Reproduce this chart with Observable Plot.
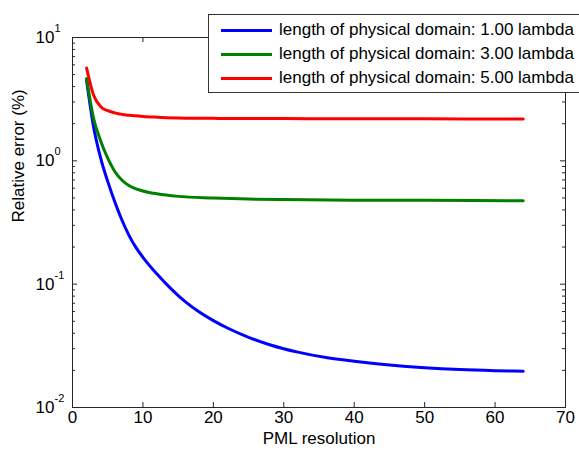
<!DOCTYPE html>
<html>
<head>
<meta charset="utf-8">
<script src="https://cdn.jsdelivr.net/npm/d3@7"></script>
<script src="https://cdn.jsdelivr.net/npm/@observablehq/plot@0.6"></script>
<style>
  html, body { margin: 0; padding: 0; background: #fff; overflow: hidden; }
  #wrap { position: relative; width: 579px; height: 450px; overflow: hidden; font-family: "Liberation Sans", Arial, sans-serif; }
  #legend { position: absolute; left: 208px; top: 14px; width: 400px; height: 79px; border: 1px solid #333; background: #fff; box-sizing: border-box; }
  .row { position: absolute; left: 0; height: 20px; display: flex; align-items: center; font-size: 17px; color: #000; white-space: nowrap; }
  .sw { width: 51px; height: 3px; margin-left: 12px; margin-right: 7px; flex: none; }
</style>
</head>
<body>
<div id="wrap"></div>
<script>
// ---- data ----
const seriesNames = [
  "length of physical domain: 1.00 lambda",
  "length of physical domain: 3.00 lambda",
  "length of physical domain: 5.00 lambda"
];
const seriesColors = ["#0000ff", "#008000", "#ff0000"];

const xBlue = [2, 3, 4, 5, 6, 7, 8, 9, 10, 12, 14, 16, 18, 20, 22, 25, 28, 32, 36, 40, 45, 50, 55, 60, 64];
const yBlue = [4.5, 1.875, 1.054, 0.681, 0.466, 0.333, 0.25, 0.1986, 0.1652, 0.1208, 0.0916, 0.0721, 0.0594, 0.0506, 0.0441, 0.0371, 0.0323, 0.0281, 0.0254, 0.0237, 0.0221, 0.021, 0.0203, 0.0199, 0.0197];

const xGreen = [2, 3, 4, 5, 6, 7, 8, 10, 12, 15, 20, 25, 30, 40, 50, 64];
const yGreen = [4.65, 2.2, 1.45, 1.05, 0.82, 0.7, 0.63, 0.57, 0.54, 0.515, 0.5, 0.49, 0.485, 0.48, 0.478, 0.475];

const xRed = [2, 3, 4, 5, 6, 7, 8, 10, 12, 15, 20, 30, 40, 50, 64];
const yRed = [5.65, 3.4, 2.75, 2.55, 2.45, 2.38, 2.34, 2.29, 2.26, 2.23, 2.21, 2.2, 2.19, 2.19, 2.18];

const xTicks = [0, 10, 20, 30, 40, 50, 60, 70];
const yMajor = [0.01, 0.1, 1, 10];
const yExp = ["-2", "-1", "0", "1"];
const xLabel = "PML resolution";
const yLabel = "Relative error (%)";

// ---- build ----
const rows = [];
[[xBlue, yBlue], [xGreen, yGreen], [xRed, yRed]].forEach(([xs, ys], i) => {
  xs.forEach((x, j) => rows.push({series: seriesNames[i], x, y: ys[j]}));
});
const yMinor = [];
yMajor.slice(0, -1).forEach(m => { for (let k = 2; k <= 9; k++) yMinor.push(m * k); });
const yTickData = yMajor.map((v, i) => ({v, e: yExp[i]}));

const W = 579, H = 450, mL = 72, mR = 14, mT = 37, mB = 43;
const pw = W - mL - mR, ph = H - mT - mB;
const axisColor = "#262626";
const fs = 17;

const chart = Plot.plot({
  width: W, height: H,
  marginLeft: mL, marginRight: mR, marginTop: mT, marginBottom: mB,
  style: {fontFamily: "'Liberation Sans', Arial, sans-serif", background: "#fff", color: "#000"},
  x: {domain: [0, 70], axis: null},
  y: {type: "log", domain: [0.01, 10], axis: null},
  color: {domain: seriesNames, range: seriesColors},
  marks: [
    Plot.line(rows, {x: "x", y: "y", stroke: "series", strokeWidth: 3, curve: "monotone-x"}),
    Plot.frame({stroke: axisColor}),
    // x ticks bottom and top (inward)
    Plot.ruleX(xTicks, {x: d => d, insetTop: ph - 5, stroke: axisColor}),
    Plot.ruleX(xTicks, {x: d => d, insetBottom: ph - 5, stroke: axisColor}),
    // y major ticks left/right
    Plot.ruleY(yMajor, {y: d => d, insetRight: pw - 5, stroke: axisColor}),
    Plot.ruleY(yMajor, {y: d => d, insetLeft: pw - 5, stroke: axisColor}),
    // y minor ticks
    Plot.ruleY(yMinor, {y: d => d, insetRight: pw - 3, stroke: axisColor}),
    Plot.ruleY(yMinor, {y: d => d, insetLeft: pw - 3, stroke: axisColor}),
    // x tick labels
    Plot.text(xTicks, {x: d => d, frameAnchor: "bottom", dy: 15, text: d => String(d), fontSize: fs, fill: "#000"}),
    // y tick labels: base and exponent
    Plot.text(yTickData, {y: "v", frameAnchor: "left", dx: -18, textAnchor: "end", text: () => "10", fontSize: fs, fill: "#000"}),
    Plot.text(yTickData, {y: "v", frameAnchor: "left", dx: -18, dy: -9, textAnchor: "start", text: "e", fontSize: 11, fill: "#000"}),
    // axis labels
    Plot.text([xLabel], {frameAnchor: "bottom", dy: 36, text: d => d, fontSize: fs, fill: "#000"}),
    Plot.text([yLabel], {frameAnchor: "left", dx: -54, rotate: -90, text: d => d, fontSize: fs, fill: "#000"})
  ]
});

const wrap = document.getElementById("wrap");
wrap.appendChild(chart);

const legend = document.createElement("div");
legend.id = "legend";
seriesNames.forEach((name, i) => {
  const row = document.createElement("div");
  row.className = "row";
  row.style.top = (5 + i * 24) + "px";
  const sw = document.createElement("span");
  sw.className = "sw";
  sw.style.background = seriesColors[i];
  const t = document.createElement("span");
  t.textContent = name;
  row.appendChild(sw);
  row.appendChild(t);
  legend.appendChild(row);
});
wrap.appendChild(legend);
</script>
</body>
</html>
